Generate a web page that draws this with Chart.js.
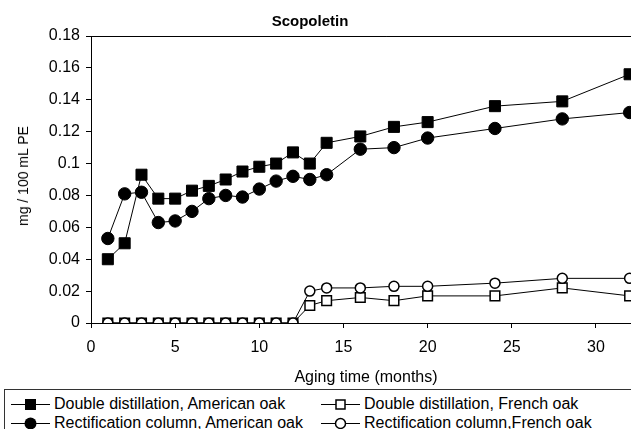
<!DOCTYPE html>
<html lang="en">
<head>
<meta charset="UTF-8">
<title>Scopoletin</title>
<script src="https://cdn.jsdelivr.net/npm/chart.js"></script>
<style>
  html, body { margin: 0; padding: 0; background: #fff; }
  #wrap { position: relative; width: 631px; height: 429px; overflow: hidden; background: #fff;
          font-family: "Liberation Sans", Arial, sans-serif; color: #000; }
  #plot { position: absolute; left: 0; top: 0; }
  .txt { position: absolute; white-space: nowrap; line-height: 18px; }
  #legend { position: absolute; left: 4px; top: 389px; width: 700px; height: 60px;
            border: 1px solid #333; background: #fff; }
  .item { position: absolute; display: flex; align-items: center; font-size: 16px; line-height: 18px; white-space: nowrap; }
  .item svg { margin-right: 4px; }
</style>
</head>
<body>
<div id="wrap">
  <canvas id="plot" width="699" height="429"></canvas>
  <div class="txt" style="left:0;width:620px;top:12px;text-align:center;font-weight:bold;font-size:15px;">Scopoletin</div>
  <div class="txt" style="left:23px;top:176px;font-size:14px;transform:translate(-50%,-50%) rotate(-90deg);">mg / 100 mL PE</div>
  <div class="txt" style="left:366px;top:377px;font-size:16px;transform:translate(-50%,-50%);">Aging time (months)</div>
  <div id="legend"></div>
</div>

<script>
// months of ageing
const months = [1, 2, 3, 4, 5, 6, 7, 8, 9, 10, 11, 12, 13, 14, 16, 18, 20, 24, 28, 32];

// scopoletin, mg / 100 mL PE
const ddAmerican = [0.040, 0.050, 0.093, 0.078, 0.078, 0.083, 0.086, 0.090, 0.095, 0.098,
                    0.100, 0.107, 0.100, 0.113, 0.117, 0.123, 0.126, 0.136, 0.139, 0.156];
const rcAmerican = [0.053, 0.081, 0.082, 0.063, 0.064, 0.070, 0.078, 0.080, 0.079, 0.084,
                    0.089, 0.092, 0.090, 0.093, 0.109, 0.110, 0.116, 0.122, 0.128, 0.132];
const ddFrench   = [0, 0, 0, 0, 0, 0, 0, 0, 0, 0,
                    0, 0, 0.011, 0.014, 0.016, 0.014, 0.017, 0.017, 0.022, 0.017];
const rcFrench   = [0, 0, 0, 0, 0, 0, 0, 0, 0, 0,
                    0, 0, 0.020, 0.022, 0.022, 0.023, 0.023, 0.025, 0.028, 0.028];

const seriesNames = [
    'Double distillation, American oak',
    'Rectification column, American oak',
    'Double distillation, French oak',
    'Rectification column,French oak'
];

function toPoints(values) {
    return values.map((v, i) => ({ x: months[i], y: v }));
}

Chart.defaults.font.family = '"Liberation Sans", Arial, sans-serif';
Chart.defaults.font.size = 16;
Chart.defaults.color = '#000';

const common = { borderColor: '#000', borderWidth: 1, pointBorderColor: '#000', tension: 0 };

new Chart(document.getElementById('plot'), {
    type: 'line',
    data: {
        datasets: [
            Object.assign({ label: seriesNames[0], data: toPoints(ddAmerican), pointStyle: 'rect',
                pointRadius: 7.8, pointBackgroundColor: '#000', order: 3 }, common),
            Object.assign({ label: seriesNames[1], data: toPoints(rcAmerican), pointStyle: 'circle',
                pointRadius: 6.2, pointBackgroundColor: '#000', order: 4 }, common),
            Object.assign({ label: seriesNames[2], data: toPoints(ddFrench), pointStyle: 'rect',
                pointRadius: 6.8, pointBackgroundColor: '#fff', pointBorderWidth: 1.5, order: 2 }, common),
            Object.assign({ label: seriesNames[3], data: toPoints(rcFrench), pointStyle: 'circle',
                pointRadius: 5, pointBackgroundColor: '#fff', pointBorderWidth: 1.5, order: 1 }, common)
        ]
    },
    options: {
        responsive: false,
        animation: false,
        layout: { padding: { left: 0, top: 36, right: 15, bottom: 0 } },
        plugins: { legend: { display: false }, tooltip: { enabled: false } },
        scales: {
            x: {
                type: 'linear', min: 0, max: 35, z: 1,
                ticks: { stepSize: 5, padding: 10, maxRotation: 0 },
                grid: { drawOnChartArea: false, tickLength: 5, tickColor: '#000' },
                border: { color: '#000', width: 1 },
                afterFit: s => { s.height = 106; }
            },
            y: {
                min: 0, max: 0.18,
                ticks: { stepSize: 0.02, padding: 6,
                    callback: v => String(Number(v.toFixed(2))) },
                grid: {
                    color: c => (c.tick && c.tick.value > 0.179) ? '#000' : 'rgba(0,0,0,0)',
                    tickLength: 5, tickColor: '#000'
                },
                border: { color: '#000', width: 1 },
                afterFit: s => { s.width = 91; }
            }
        }
    }
});

// legend, two columns like the original
const legendPos = [
    { left: 6, top: 5 }, { left: 6, top: 24 }, { left: 316, top: 5 }, { left: 316, top: 24 }
];
const markers = [
    '<rect x="14" y="2" width="11" height="11" fill="#000"/>',
    '<circle cx="19.5" cy="7.5" r="6" fill="#000"/>',
    '<rect x="15" y="3" width="9" height="9" fill="#fff" stroke="#000" stroke-width="1.5"/>',
    '<circle cx="19.5" cy="7.5" r="5" fill="#fff" stroke="#000" stroke-width="1.5"/>'
];
const legend = document.getElementById('legend');
seriesNames.forEach((name, i) => {
    const el = document.createElement('div');
    el.className = 'item';
    el.style.left = legendPos[i].left + 'px';
    el.style.top = legendPos[i].top + 'px';
    el.innerHTML = '<svg width="39" height="15"><line x1="0" y1="7.5" x2="39" y2="7.5" stroke="#000" stroke-width="1"/>' +
        markers[i] + '</svg><span>' + name + '</span>';
    legend.appendChild(el);
});
</script>
</body>
</html>
